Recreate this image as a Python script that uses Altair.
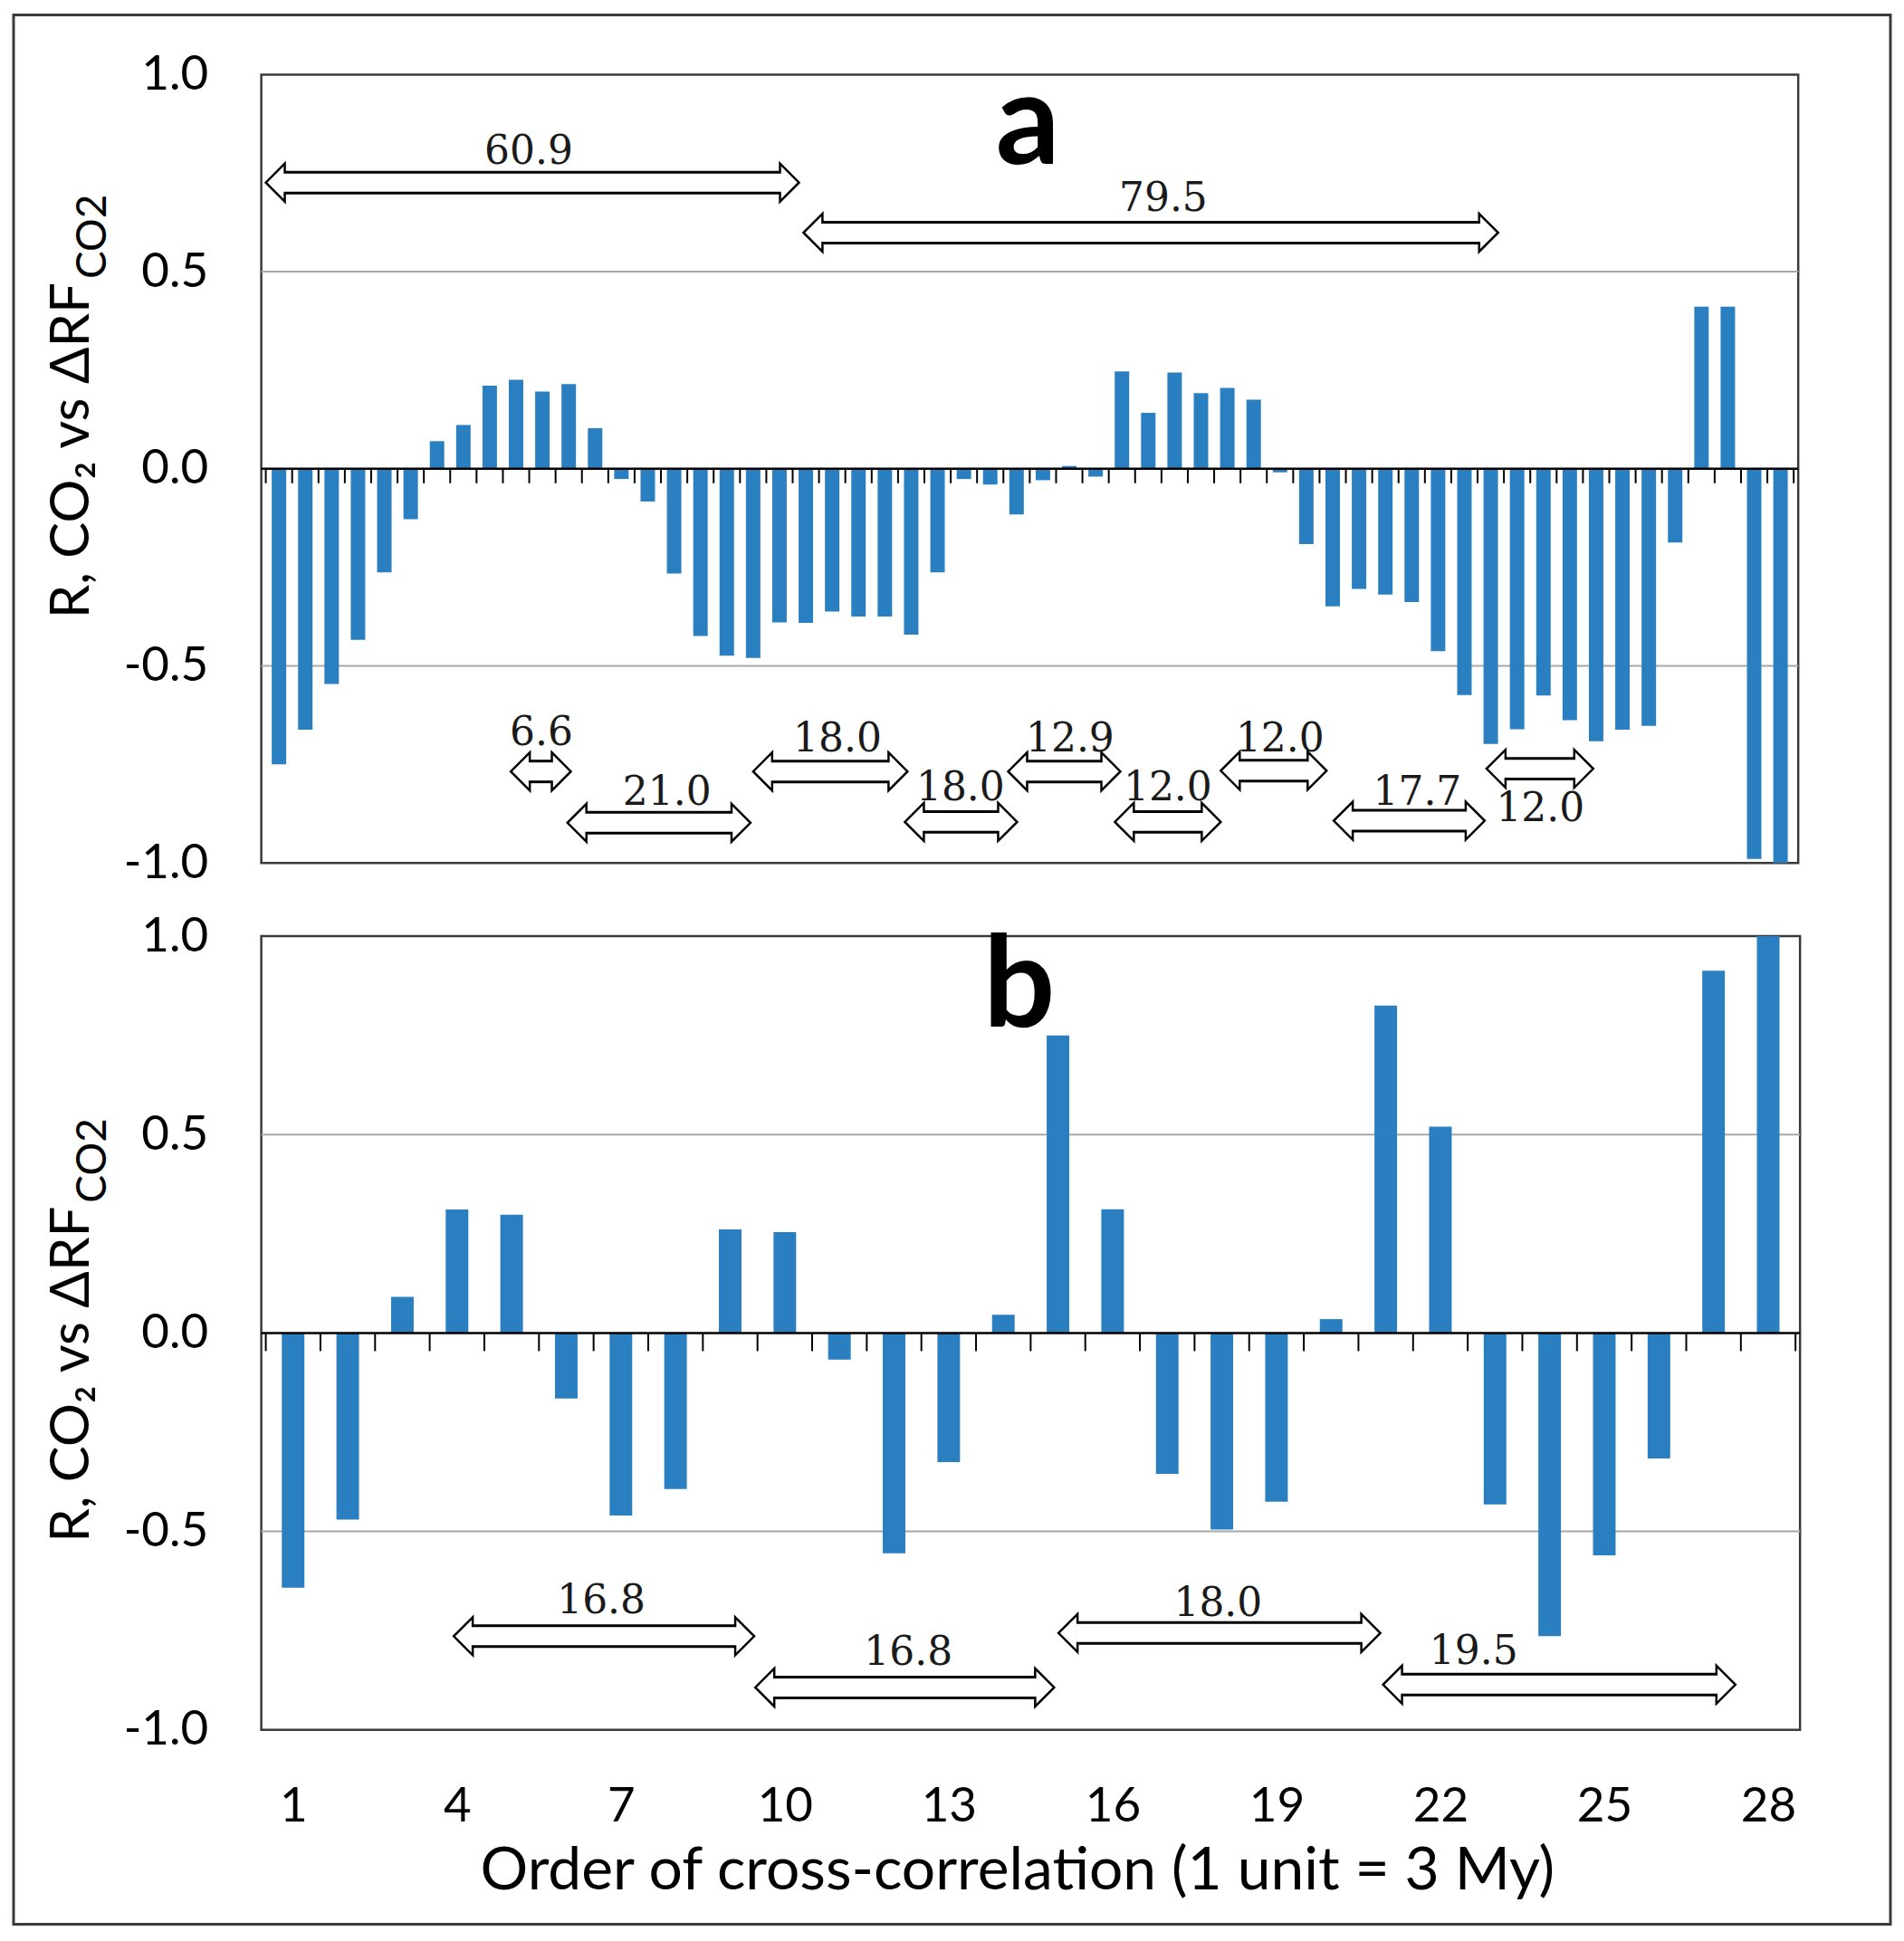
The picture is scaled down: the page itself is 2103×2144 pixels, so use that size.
import altair as alt
import pandas as pd

# ---------------------------------------------------------------- data
# Panel a: correlation coefficient for 58 successive steps
A_VALUES = [-0.750, -0.662, -0.546, -0.434, -0.263, -0.128, 0.070, 0.111, 0.211, 0.226,
            0.196, 0.215, 0.103, -0.026, -0.083, -0.266, -0.424, -0.474, -0.480, -0.390,
            -0.391, -0.362, -0.375, -0.375, -0.421, -0.263, -0.026, -0.040, -0.116, -0.029,
            0.007, -0.020, 0.247, 0.142, 0.244, 0.192, 0.205, 0.175, -0.009, -0.191,
            -0.349, -0.305, -0.319, -0.338, -0.463, -0.574, -0.698, -0.661, -0.575, -0.638,
            -0.691, -0.662, -0.652, -0.187, 0.411, 0.411, -0.990, -1.000]

# Panel b: correlation coefficient by order of cross-correlation (1..28)
B_VALUES = [-0.642, -0.470, 0.091, 0.311, 0.298, -0.165, -0.460, -0.393, 0.261, 0.254,
            -0.067, -0.555, -0.325, 0.046, 0.750, 0.312, -0.355, -0.495, -0.425, 0.035,
            0.825, 0.520, -0.432, -0.764, -0.560, -0.316, 0.913, 1.000]

B_TICK_LABELS = [1, 4, 7, 10, 13, 16, 19, 22, 25, 28]
Y_TICKS = [-1.0, -0.5, 0.0, 0.5, 1.0]
GRID_LEVELS = [-0.5, 0.5]

# Period annotations (double arrows): start, end, height, label, label position
A_ANN_X1 = [0.5, 20.91, 9.80, 11.95, 19.00, 24.76, 28.68, 32.73, 36.75, 41.04, 46.84]
A_ANN_X2 = [20.74, 47.28, 12.08, 18.90, 24.86, 29.02, 32.94, 36.75, 40.77, 46.77, 50.89]
A_ANN_Y = [0.726, 0.599, -0.768, -0.898, -0.768, -0.896, -0.768, -0.896, -0.766, -0.893, -0.761]
A_ANN_LABEL = ["60.9", "79.5", "6.6", "21.0", "18.0", "18.0", "12.9", "12.0", "12.0", "17.7", "12.0"]
A_ANN_LX = [10.48, 34.57, 10.96, 15.73, 22.20, 26.87, 31.03, 34.74, 39.00, 44.21, 48.88]
A_ANN_LY = [0.773, 0.654, -0.702, -0.853, -0.716, -0.842, -0.716, -0.842, -0.716, -0.853, -0.894]

B_ANN_X1 = [3.94, 9.46, 15.01, 20.95]
B_ANN_X2 = [9.44, 14.93, 20.90, 27.40]
B_ANN_Y = [-0.764, -0.893, -0.756, -0.886]
B_ANN_LABEL = ["16.8", "16.8", "18.0", "19.5"]
B_ANN_LX = [6.64, 12.26, 17.93, 22.61]
B_ANN_LY = [-0.707, -0.836, -0.714, -0.834]

# ---------------------------------------------------------------- style
BAR_COLOR = "#2a7fc1"
GRID_COLOR = "#a8a8a8"
FRAME_COLOR = "#3a3a3a"
FONT = "Lato"
LABEL_FONT = "DejaVu Serif"
LEFT_HEAD = "M0,-1L-1,0L0,1Z"
RIGHT_HEAD = "M0,-1L1,0L0,1Z"
HEAD = 21          # arrowhead length / half height, px
Y_TITLE = "R, CO\u2082 vs  \u0394RF"
Y_TITLE_SUB = "CO2"
X_TITLE = "Order of cross-correlation (1 unit = 3 My)"

Y_SCALE = alt.Scale(domain=[-1, 1], nice=False, zero=False)


def x_scale(n):
    return alt.Scale(domain=[0.5, n + 0.5], nice=False, zero=False)


def y_axis():
    return alt.Axis(values=Y_TICKS,
                    labelExpr="(datum.value < 0 ? '-' : '') + format(abs(datum.value), '.1f')",
                    labelFont=FONT, labelFontSize=53, labelColor="black", labelPadding=59,
                    ticks=False, domain=False, grid=False, title=None)


def x_label_axis():
    return alt.Axis(values=B_TICK_LABELS, labelFont=FONT, labelFontSize=53, labelColor="black",
                    labelPadding=59, ticks=False, domain=False, grid=False,
                    title=X_TITLE, titleFont=FONT, titleFontSize=66, titleFontWeight="normal",
                    titleColor="black", titlePadding=12, titleX=836, titleAlign="center")


def one():
    return alt.Data(values=[{}])


def panel(values, width, height, bar_w, tick, ann, letter, letter_x, letter_y,
          title_join, bottom_axis=False, frame=False):
    n = len(values)
    xs = x_scale(n)
    xa = x_label_axis() if bottom_axis else None

    def X(field):
        return alt.X(field, scale=xs, axis=xa)

    def Y(field):
        return alt.Y(field, scale=Y_SCALE, axis=y_axis())

    bars_df = pd.DataFrame({"i": list(range(1, n + 1)), "v": values})
    bounds_df = pd.DataFrame({"b": [k + 0.5 for k in range(n + 1)], "z": 0.0})

    grid = alt.Chart(pd.DataFrame({"g": GRID_LEVELS})).mark_rule(
        color=GRID_COLOR, strokeWidth=2).encode(y=Y("g:Q"))

    bars = alt.Chart(bars_df).mark_bar(orient="vertical", size=bar_w, color=BAR_COLOR).encode(
        x=X("i:Q"), y=Y("v:Q"))

    # zero line with short ticks at category boundaries
    zero_line = alt.Chart(pd.DataFrame({"z": [0.0]})).mark_rule(
        color="black", strokeWidth=2.5).encode(y=Y("z:Q"))
    zero_ticks = alt.Chart(bounds_df).mark_rule(
        color="black", strokeWidth=2, y2Offset=tick).encode(
        x=X("b:Q"), y=Y("z:Q"), y2="z:Q")

    layers = [grid, bars, zero_line, zero_ticks]

    base = alt.Chart(ann)
    shaft = base.mark_rule(color="black", strokeWidth=26, xOffset=HEAD, x2Offset=-HEAD).encode(
        x=X("x1:Q"), x2="x2:Q", y=Y("y:Q"))
    head_l = base.mark_point(shape=LEFT_HEAD, size=(2 * HEAD) ** 2, filled=True, fill="white",
                             stroke="black", strokeWidth=2.5, opacity=1, xOffset=HEAD).encode(
        x=X("x1:Q"), y=Y("y:Q"))
    head_r = base.mark_point(shape=RIGHT_HEAD, size=(2 * HEAD) ** 2, filled=True, fill="white",
                             stroke="black", strokeWidth=2.5, opacity=1, xOffset=-HEAD).encode(
        x=X("x2:Q"), y=Y("y:Q"))
    inner = base.mark_rule(color="white", strokeWidth=20, xOffset=HEAD - 2,
                           x2Offset=-(HEAD - 2)).encode(x=X("x1:Q"), x2="x2:Q", y=Y("y:Q"))
    labels = base.mark_text(font=LABEL_FONT, fontSize=44, color="#1a1a1a", align="center",
                            baseline="alphabetic").encode(
        x=X("lx:Q"), y=Y("ly:Q"), text="label:N")
    layers += [shaft, head_l, head_r, inner, labels]

    letter_mark = alt.Chart(pd.DataFrame({"lx": [letter_x], "ly": [letter_y], "t": [letter]})).mark_text(
        font=FONT, fontSize=140, fontWeight="bold", color="black", align="center",
        baseline="alphabetic").encode(x=X("lx:Q"), y=Y("ly:Q"), text="t:N")
    layers.append(letter_mark)

    # rotated y title with subscript
    t_main = alt.Chart(one()).mark_text(
        text=Y_TITLE, angle=270, align="right", baseline="alphabetic", font=FONT,
        fontSize=60, color="black").encode(x=alt.value(-191), y=alt.value(title_join))
    t_sub = alt.Chart(one()).mark_text(
        text=Y_TITLE_SUB, angle=270, align="left", baseline="alphabetic", font=FONT,
        fontSize=46, color="black", dx=4, dy=19).encode(x=alt.value(-191), y=alt.value(title_join))
    layers += [t_main, t_sub]

    if frame:
        border = alt.Chart(one()).mark_rect(fillOpacity=0, stroke=FRAME_COLOR, strokeWidth=3).encode(
            x=alt.value(-274), x2=alt.value(1802), y=alt.value(-66), y2=alt.value(2046))
        layers.append(border)

    return alt.layer(*layers).properties(width=width, height=height)


ann_a = pd.DataFrame({"x1": A_ANN_X1, "x2": A_ANN_X2, "y": A_ANN_Y, "label": A_ANN_LABEL,
                      "lx": A_ANN_LX, "ly": A_ANN_LY})
ann_b = pd.DataFrame({"x1": B_ANN_X1, "x2": B_ANN_X2, "y": B_ANN_Y, "label": B_ANN_LABEL,
                      "lx": B_ANN_LX, "ly": B_ANN_LY})

panel_a = panel(A_VALUES, 1700, 872, 16, 16, ann_a, "a", 29.43, 0.773, 230, frame=True)
panel_b = panel(B_VALUES, 1702, 878, 25, 20, ann_b, "b", 14.29, 0.772, 299, bottom_axis=True)

chart = alt.vconcat(panel_a, panel_b, spacing=81, bounds="flush", padding=12,
                    background="white").configure_view(
    stroke=FRAME_COLOR, strokeWidth=2.5)

chart.save("out.html", embed_options={"renderer": "svg", "actions": False})
